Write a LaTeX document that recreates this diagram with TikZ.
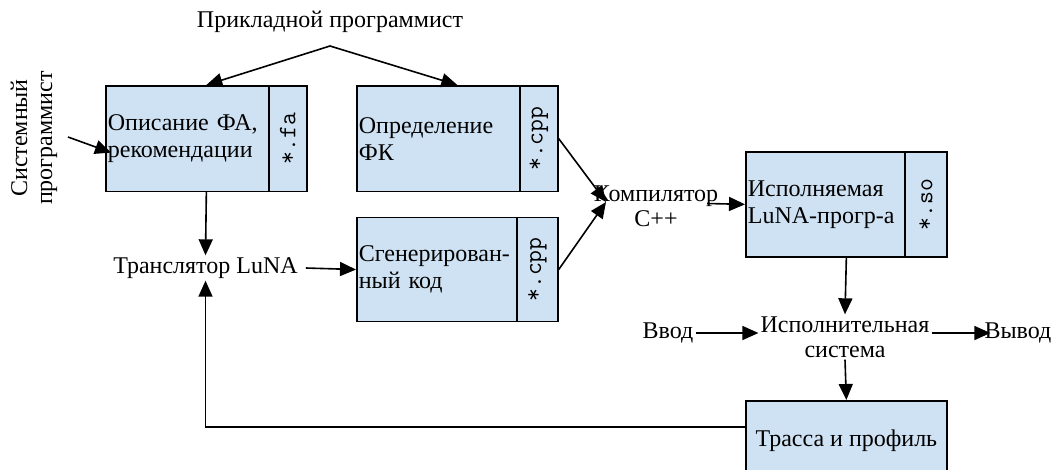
\documentclass[tikz,border=0pt]{standalone}
\usepackage{fontspec}
\setmainfont{Liberation Serif}
\usetikzlibrary{arrows.meta}
\definecolor{boxfill}{RGB}{207,226,243}
\begin{document}
\begin{tikzpicture}[x=1pt,y=-1pt,
  font=\fontsize{24}{27}\selectfont,
  box/.style={draw, line width=1.7pt, fill=boxfill, rectangle, anchor=north west,
              inner sep=2pt, align=left},
  side/.style={draw, line width=1.7pt, fill=boxfill, rectangle, anchor=north east,
               inner sep=0pt, font=\fontsize{25}{27}\ttfamily},
  lbl/.style={align=center, inner sep=2pt, font=\fontsize{24}{25}\selectfont},
  arr/.style={line width=1.6pt, -{Triangle[length=16pt,width=14pt]}}]
\path[use as bounding box, clip] (0,0) rectangle (1057,469);

% file boxes with a side strip for the file extension
\node[box, minimum width=201pt, minimum height=105.5pt, text width=197pt] (fa) at (105,85)
  {Описание ФА,\\рекомендации};
\node[side, minimum width=38pt, minimum height=105.5pt] (fas) at (fa.north east)
  {\rotatebox{90}{*.fa}};

\node[box, minimum width=201pt, minimum height=105.5pt, text width=197pt] (fk) at (356,85)
  {Определение\\ФК};
\node[side, minimum width=38pt, minimum height=105.5pt] (fks) at (fk.north east)
  {\rotatebox{90}{*.cpp}};

\node[box, minimum width=201pt, minimum height=104pt, text width=197pt] (gen) at (356,216.7)
  {Сгенерирован-\\ный код};
\node[side, minimum width=41pt, minimum height=104pt] (gens) at (gen.north east)
  {\rotatebox{90}{*.cpp}};

\node[box, minimum width=201pt, minimum height=105pt, text width=197pt] (exe) at (745,151)
  {Исполняемая\\LuNA-прогр-а};
\node[side, minimum width=42pt, minimum height=105pt] (exes) at (exe.north east)
  {\rotatebox{90}{*.so}};

\node[box, minimum width=201pt, minimum height=80pt, align=center] (trace) at (745,400)
  {Трасса и профиль};

% free labels
\node[lbl] (app) at (330,22) {Прикладной программист};
\node[lbl, rotate=90] (sys) at (34,138) {Системный\\программист};
\node[lbl] (tr) at (205.5,268) {Транслятор LuNA};
\node[lbl] (comp) at (656,206) {Компилятор\\C++};
\node[lbl] (rt) at (845,337) {Исполнительная\\система};
\node[lbl] (in) at (668,333) {Ввод};
\node[lbl] (out) at (1018,333) {Вывод};

% connector end points
\coordinate (apex) at (330,46);
\coordinate (sysout) at (68,137);
\coordinate (cin) at (606,202);
\coordinate (cout) at (707,203.5);

% connectors
\draw[arr] (apex) -- (fa.north);
\draw[arr] (apex) -- (fk.north);
\draw[arr] (sysout) -- ([shift={(6pt,-14pt)}]fa.west);
\draw[arr] (fa.south) -- (tr.north);
\draw[arr] ([xshift=6pt]tr.east) -- (gen.west);
\draw[arr] (fk.east) -- (cin);
\draw[arr] (gen.east) -- (cin);
\draw[arr] (cout) -- (exe.west);
\draw[arr] (exe.south) -- (rt.north);
\draw[arr] (in.east) -- (in.east -| rt.west);
\draw[arr] (rt.east |- out.west) -- ([xshift=8pt]out.west);
\draw[arr] (rt.south) -- (trace.north);
\draw[arr] ([yshift=-27pt]trace.north west) -| (tr.south);
\end{tikzpicture}
\end{document}
